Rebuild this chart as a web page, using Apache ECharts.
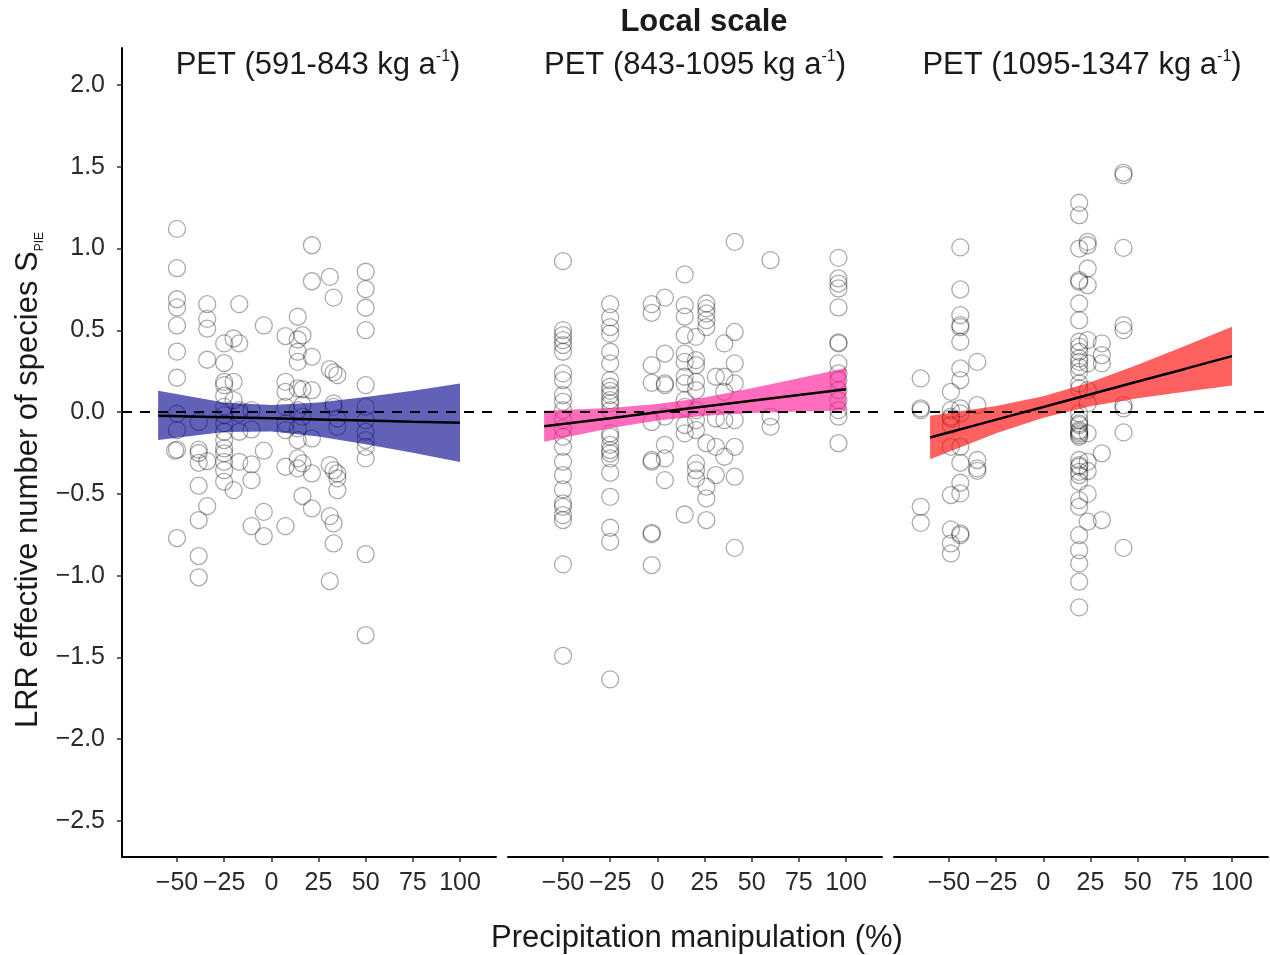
<!DOCTYPE html>
<html>
<head>
<meta charset="utf-8">
<script src="https://cdn.jsdelivr.net/npm/echarts@6/dist/echarts.min.js"></script>
<style>
html, body { margin: 0; background: #fff; }
#chart { width: 1270px; height: 955px; }
</style>
</head>
<body>
<div id="chart"></div>
<script>
// ==============================================================
// data
// ==============================================================
var panelTitles = ['591-843', '843-1095', '1095-1347'];
var xTicks = [-50, -25, 0, 25, 50, 75, 100];
var yTicks = [-2.5, -2, -1.5, -1, -0.5, 0, 0.5, 1, 1.5, 2];

// points per panel: [precipitation %, LRR]
var pts1 = [
  [-50,1.12],[-50,0.88],[-50,0.69],[-50,0.64],[-50,0.53],[-50,0.37],[-50,0.21],[-50,-0.01],[-50,-0.11],[-50,-0.23],[-51,-0.235],[-50,-0.77],
  [-38.5,-0.06],[-38.5,-0.23],[-38.5,-0.25],[-38.5,-0.31],[-38.5,-0.45],[-38.5,-0.66],[-38.5,-0.88],[-38.5,-1.01],
  [-34,0.66],[-34,0.57],[-34,0.51],[-34,0.32],[-34,-0.30],[-34,-0.575],
  [-25,0.42],[-25,0.30],[-25,0.185],[-25,0.165],[-25,0.1],[-25,0.032],[-25,-0.018],[-25,-0.069],[-25,-0.12],[-25,-0.171],[-25,-0.222],[-25,-0.252],[-25,-0.304],[-25,-0.355],[-25,-0.426],
  [-20,0.45],[-20,0.185],[-20,0.073],[-20,-0.477],
  [-17,0.66],[-17,0.42],[-17,0.012],[-17,-0.008],[-17,-0.12],[-17,-0.304],
  [-10.5,0.012],[-10.5,-0.106],[-10.5,-0.32],[-10.5,-0.416],[-10.5,-0.697],
  [-4,0.53],[-4,-0.236],[-4,-0.61],[-4,-0.758],
  [7.5,0.465],[7.5,0.185],[7.5,0.124],[7.5,0.032],[7.5,-0.069],[7.5,-0.11],[7.5,-0.334],[7.5,-0.697],
  [14,0.583],[14,0.444],[14,0.369],[14,0.307],[14,0.145],[14,0.012],[14,-0.1],[14,-0.171],[14,-0.283],[14,-0.344],
  [16.5,0.47],[16.5,0.14],[16.5,0.043],[16.5,-0.028],[16.5,-0.314],[16.5,-0.513],
  [21.5,1.02],[21.5,0.80],[21.5,0.338],[21.5,0.134],[21.5,-0.161],[21.5,-0.375],[21.5,-0.589],
  [31,0.827],[31,0.263],[31,-0.324],[31,-0.636],[31,-1.033],
  [33,0.70],[33,0.243],[33,0.053],[33,0.032],[33,-0.355],[33,-0.68],[33,-0.803],
  [35,0.226],[35,-0.039],[35,-0.09],[35,-0.375],[35,-0.405],[35,-0.477],
  [50,0.858],[50,0.752],[50,0.638],[50,0.501],[50,0.165],[50,0.032],[50,-0.049],[50,-0.12],[50,-0.171],[50,-0.212],[50,-0.283],[50,-0.868],[50,-1.363]
];
var pts2 = [
  [-50,0.923],[-50,0.501],[-50,0.471],[-50,0.44],[-50,0.41],[-50,0.369],[-50,0.237],[-50,0.196],[-50,0.104],[-50,0.063],[-50,0.012],[-50,-0.049],[-50,-0.1],[-50,-0.151],[-50,-0.212],[-50,-0.304],[-50,-0.385],[-50,-0.473],[-50,-0.558],[-50,-0.579],[-50,-0.63],[-50,-0.66],[-50,-0.931],[-50,-1.49],
  [-25,0.66],[-25,0.579],[-25,0.52],[-25,0.48],[-25,0.369],[-25,0.298],[-25,0.196],[-25,0.155],[-25,0.13],[-25,0.104],[-25,0.073],[-25,0.053],[-25,0.012],[-25,-0.13],[-25,-0.151],[-25,-0.2],[-25,-0.232],[-25,-0.252],[-25,-0.283],[-25,-0.371],[-25,-0.518],[-25,-0.707],[-25,-0.793],[-25,-1.634],
  [-3,0.66],[-3,0.607],[-3,0.287],[-3,0.179],[-3,-0.06],[-3,-0.293],[-3,-0.304],[-3,-0.738],[-3,-0.746],[-3,-0.935],
  [4,0.70],[4,0.358],[4,0.175],[4,0.165],[4,-0.028],[4,-0.2],[4,-0.283],[4,-0.416],
  [14.5,0.842],[14.5,0.654],[14.5,0.583],[14.5,0.47],[14.5,0.358],[14.5,0.307],[14.5,0.216],[14.5,0.175],[14.5,0.073],[14.5,0.032],[14.5,-0.079],[14.5,-0.13],[14.5,-0.626],
  [20.5,0.46],[20.5,0.318],[20.5,0.287],[20.5,0.185],[20.5,0.134],[20.5,0.012],[20.5,-0.049],[20.5,-0.11],[20.5,-0.314],[20.5,-0.355],[20.5,-0.405],
  [26,0.664],[26,0.634],[26,0.603],[26,0.562],[26,0.52],[26,-0.19],[26,-0.456],[26,-0.528],[26,-0.66],
  [31,0.216],[31,-0.039],[31,-0.212],[31,-0.385],
  [35.5,0.42],[35.5,0.216],[35.5,0.124],[35.5,-0.049],[35.5,-0.273],
  [41,1.041],[41,0.49],[41,0.298],[41,0.175],[41,-0.049],[41,-0.212],[41,-0.395],[41,-0.83],
  [60,0.929],[60,-0.028],[60,-0.09],
  [96,0.943],[96,0.817],[96,0.786],[96,0.756],[96,0.64],[96,0.426],[96,0.42],[96,0.298],[96,0.237],[96,0.196],[96,0.134],[96,0.073],[96,0.012],[96,-0.028],[96,-0.19]
];
var pts3 = [
  [-65,0.206],[-65,0.023],[-65,0.012],[-65,-0.579],[-65,-0.677],
  [-49,0.124],[-49,0.012],[-49,-0.028],[-49,-0.039],[-49,-0.079],[-49,-0.212],[-49,-0.507],[-49,-0.717],[-49,-0.803],[-49,-0.864],
  [-44,1.007],[-44,0.75],[-44,0.593],[-44,0.532],[-44,0.52],[-44,0.43],[-44,0.267],[-44,0.196],[-44,0.023],[-44,-0.008],[-44,-0.212],[-44,-0.31],[-44,-0.432],[-44,-0.497],[-44,-0.742],[-44,-0.752],
  [-35,0.307],[-35,0.043],[-35,-0.293],[-35,-0.344],[-35,-0.359],
  [19,1.28],[19,1.204],[19,1.0],[19,0.807],[19,0.797],[19,0.664],[19,0.562],[19,0.43],[19,0.40],[19,0.369],[19,0.328],[19,0.307],[19,0.277],[19,0.246],[19,0.175],[19,0.145],[19,-0.008],[19,-0.049],[19,-0.069],[19,-0.079],[19,-0.11],[19,-0.12],[19,-0.13],[19,-0.141],[19,-0.151],[19,-0.293],[19,-0.324],[19,-0.334],[19,-0.365],[19,-0.385],[19,-0.426],[19,-0.538],[19,-0.579],[19,-0.752],[19,-0.844],[19,-0.925],[19,-1.037],[19,-1.194],
  [23.5,1.041],[23.5,1.02],[23.5,0.878],[23.5,0.776],[23.5,0.44],[23.5,0.298],[23.5,0.134],[23.5,0.053],[23.5,-0.13],[23.5,-0.304],[23.5,-0.36],[23.5,-0.5],[23.5,-0.67],
  [31,0.42],[31,0.348],[31,0.298],[31,-0.252],[31,-0.66],
  [42.5,1.463],[42.5,1.449],[42.5,1.004],[42.5,0.532],[42.5,0.501],[42.5,0.043],[42.5,0.023],[42.5,-0.124],[42.5,-0.83]
];

// fitted line and confidence band, read at these x values
var fitX = [-60, -25, 0, 25, 50, 75, 100];
var fit1 = [-0.023, -0.031, -0.038, -0.045, -0.052, -0.059, -0.065];
var lo1  = [-0.17, -0.121, -0.119, -0.149, -0.196, -0.249, -0.305];
var hi1  = [0.13, 0.059, 0.043, 0.059, 0.092, 0.131, 0.175];
var fit2 = [-0.086, -0.037, -0.001, 0.034, 0.070, 0.105, 0.140];
var lo2  = [-0.181, -0.099, -0.051, -0.022, -0.006, 0.003, 0.010];
var hi2  = [0.009, 0.025, 0.049, 0.090, 0.146, 0.207, 0.27];
var fit3 = [-0.155, -0.046, 0.031, 0.109, 0.187, 0.264, 0.342];
var lo3  = [-0.288, -0.130, -0.035, 0.035, 0.085, 0.124, 0.162];
var hi3  = [-0.022, 0.038, 0.097, 0.183, 0.289, 0.404, 0.522];

var points = [pts1, pts2, pts3];
var fits = [fit1, fit2, fit3];
var lows = [lo1, lo2, lo3];
var highs = [hi1, hi2, hi3];
var bandColors = ['#00008B', '#FF1493', '#FF0000'];

// ==============================================================
// layout
// ==============================================================
var FONT = 'Liberation Sans, Arial, sans-serif';
var gridLeft = [122, 508, 894];
var gridW = 374;
var titleX = [318, 695, 1082];

function zip(xs, ys) {
  return xs.map(function (x, i) { return [x, ys[i]]; });
}

// band polygon drawn through the axis scales
function bandRenderer(lo, hi, color) {
  return function (params, api) {
    if (params.dataIndex !== 0) return;
    var poly = [];
    for (var k = 0; k < fitX.length; k++) poly.push(api.coord([fitX[k], hi[k]]));
    for (var k = fitX.length - 1; k >= 0; k--) poly.push(api.coord([fitX[k], lo[k]]));
    return {
      type: 'polygon',
      shape: { points: poly },
      style: { fill: color, opacity: 0.62 }
    };
  };
}

var grids = [], xAxes = [], yAxes = [], series = [], graphics = [];

for (var i = 0; i < 3; i++) {
  grids.push({ left: gridLeft[i], top: 48, width: gridW, height: 809 });

  xAxes.push({
    type: 'value', gridIndex: i, min: -79.15, max: 119.08,
    splitLine: { show: false },
    axisLine: { onZero: false, lineStyle: { color: '#000', width: 2 } },
    axisTick: { customValues: xTicks, length: 5, lineStyle: { color: '#333', width: 1.5 } },
    axisLabel: {
      customValues: xTicks, margin: 14, color: '#2a2a2a', fontSize: 25, fontFamily: FONT,
      formatter: function (v) { return String(v).replace('-', '\u2212'); }
    }
  });

  yAxes.push({
    type: 'value', gridIndex: i, min: -2.72, max: 2.226,
    show: i === 0,
    splitLine: { show: false },
    axisLine: { show: true, onZero: false, lineStyle: { color: '#000', width: 2 } },
    axisTick: { customValues: yTicks, length: 5, lineStyle: { color: '#333', width: 1.5 } },
    axisLabel: {
      customValues: yTicks, margin: 17, color: '#2a2a2a', fontSize: 25, fontFamily: FONT,
      formatter: function (v) { return v.toFixed(1).replace('-', '\u2212'); }
    }
  });

  series.push({
    type: 'scatter', xAxisIndex: i, yAxisIndex: i, z: 2,
    data: points[i], symbol: 'circle', symbolSize: 17,
    itemStyle: { color: 'rgba(0,0,0,0)', borderColor: 'rgba(0,0,0,0.42)', borderWidth: 1.3 },
    markLine: {
      silent: true, symbol: ['none', 'none'], label: { show: false },
      lineStyle: { color: '#000', type: [10, 8], width: 2 },
      data: [{ yAxis: 0 }]
    }
  });

  series.push({
    type: 'custom', xAxisIndex: i, yAxisIndex: i, z: 4,
    data: fitX.map(function (x, k) { return [x, lows[i][k], highs[i][k]]; }),
    encode: { x: 0, y: [1, 2] },
    renderItem: bandRenderer(lows[i], highs[i], bandColors[i])
  });

  series.push({
    type: 'line', xAxisIndex: i, yAxisIndex: i, z: 5,
    data: zip(fitX, fits[i]), symbol: 'none',
    lineStyle: { color: '#000', width: 2.5 }
  });

  graphics.push({
    type: 'text', x: titleX[i], y: 65,
    style: {
      text: '{t|PET (' + panelTitles[i] + ' kg a}{s|-1}{t|)}',
      align: 'center', verticalAlign: 'middle',
      rich: {
        t: { fontSize: 31, fontFamily: FONT, fill: '#1a1a1a', lineHeight: 33 },
        s: { fontSize: 16, fontFamily: FONT, fill: '#1a1a1a', lineHeight: 16, verticalAlign: 'top' }
      }
    }
  });
}

graphics.push({
  type: 'text', x: 704, y: 22,
  style: { text: 'Local scale', align: 'center', verticalAlign: 'middle',
           font: 'bold 31px ' + FONT, fill: '#1a1a1a' }
});
graphics.push({
  type: 'text', x: 697, y: 938,
  style: { text: 'Precipitation manipulation (%)', align: 'center', verticalAlign: 'middle',
           font: '31px ' + FONT, fill: '#1a1a1a' }
});
graphics.push({
  type: 'text', x: 28, y: 480, rotation: Math.PI / 2,
  style: {
    text: '{a|LRR effective number of species S}{b|PIE}',
    align: 'center', verticalAlign: 'middle',
    rich: {
      a: { fontSize: 31, fontFamily: FONT, fill: '#1a1a1a', lineHeight: 35 },
      b: { fontSize: 12, fontFamily: FONT, fill: '#1a1a1a', lineHeight: 12, verticalAlign: 'bottom' }
    }
  }
});

var myChart = echarts.init(document.getElementById('chart'));

option = {
  animation: false,
  backgroundColor: '#fff',
  grid: grids,
  xAxis: xAxes,
  yAxis: yAxes,
  series: series,
  graphic: graphics
};

myChart.setOption(option, true);
</script>
</body>
</html>
